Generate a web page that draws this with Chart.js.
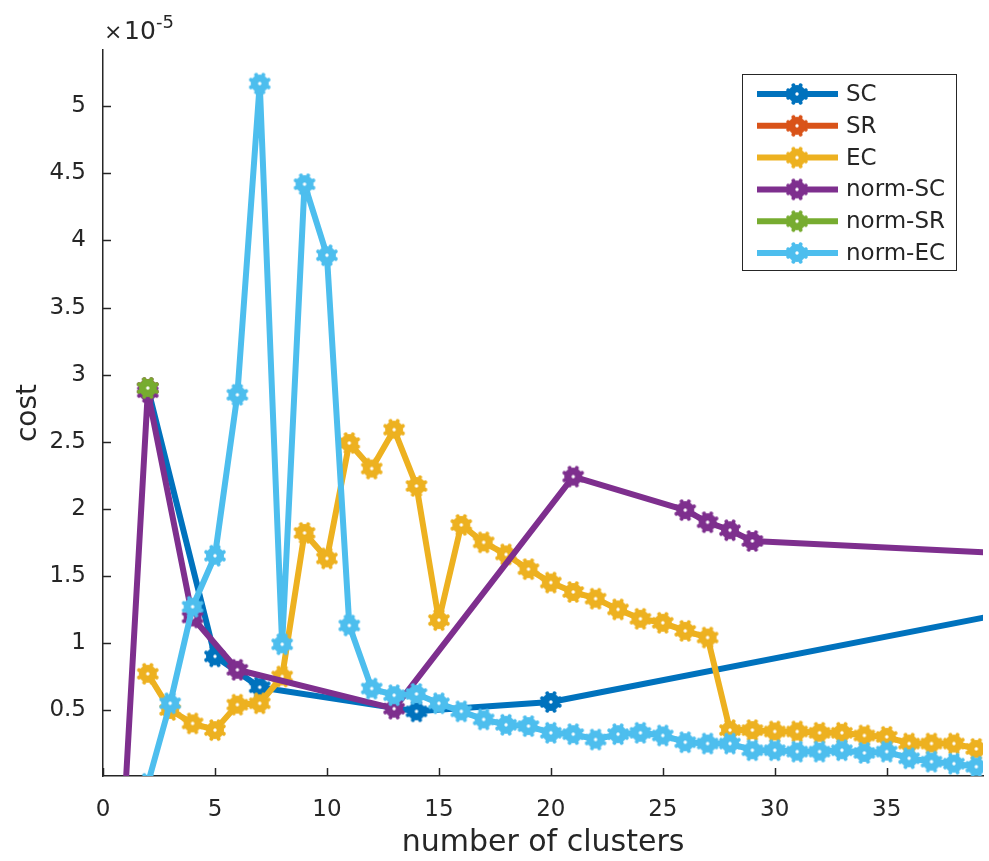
<!DOCTYPE html>
<html lang="en">
<head>
  <meta charset="UTF-8" />
  <title>cost vs number of clusters</title>
  <script src="https://cdn.jsdelivr.net/npm/chart.js"></script>
  <style>
    body { margin: 0; background: #fff; }
    #wrap { width: 989px; height: 861px; }
  </style>
</head>
<body>
  <div id="wrap"><canvas id="costChart" width="989" height="861"></canvas></div>

  <script>
    // all costs are in units of 1e-5
    const clusters = [2, 3, 4, 5, 6, 7, 8, 9, 10, 11, 12, 13, 14, 15, 16, 17, 18, 19, 20,
                      21, 22, 23, 24, 25, 26, 27, 28, 29, 30, 31, 32, 33, 34, 35, 36, 37, 38, 39];

    const scX = [2, 5, 7, 14, 20, 40];
    const scY = [2.9, 0.9, 0.67, 0.49, 0.56, 1.21];

    const srX = [2];
    const srY = [2.9];

    const ecY = [0.77, 0.5, 0.4, 0.35, 0.54, 0.55, 0.75, 1.82, 1.63, 2.49, 2.3, 2.59, 2.17, 1.17,
                 1.88, 1.75, 1.66, 1.55, 1.45, 1.38, 1.33, 1.25, 1.18, 1.15, 1.09, 1.04,
                 0.35, 0.35, 0.34, 0.34, 0.33, 0.33, 0.31, 0.3, 0.25, 0.25, 0.25, 0.21];

    const normScX = [1, 2, 4, 6, 13, 21, 26, 27, 28, 29, 40];
    const normScY = [-0.1, 2.87, 1.19, 0.8, 0.51, 2.24, 1.99, 1.9, 1.84, 1.76, 1.67];

    const normSrX = [2];
    const normSrY = [2.9];

    const normEcY = [-0.05, 0.55, 1.27, 1.65, 2.85, 5.17, 0.99, 4.42, 3.89, 1.13, 0.66, 0.61, 0.62, 0.55,
                     0.49, 0.43, 0.39, 0.38, 0.33, 0.32, 0.28, 0.32, 0.33, 0.31, 0.26, 0.25,
                     0.25, 0.2, 0.2, 0.19, 0.19, 0.2, 0.18, 0.19, 0.14, 0.115, 0.1, 0.077];

    const xTicks = [0, 5, 10, 15, 20, 25, 30, 35];
    const yTicks = [0.5, 1, 1.5, 2, 2.5, 3, 3.5, 4, 4.5, 5];

    const FONT = 'DejaVu Sans';
    const TEXT = '#262626';

    function pts(xs, ys) {
      return xs.map((x, i) => ({ x: x, y: ys[i] }));
    }

    // matlab-ish thick marker: spokes + ring, tiny white centre
    function makeMarker(color) {
      const c = document.createElement('canvas');
      c.width = c.height = 24;
      const g = c.getContext('2d');
      g.strokeStyle = color;
      g.lineWidth = 4;
      g.lineCap = 'round';
      for (let k = 0; k < 4; k++) {
        const a = k * Math.PI / 4 + Math.PI / 8;
        g.beginPath();
        g.moveTo(12 - 9.5 * Math.cos(a), 12 - 9.5 * Math.sin(a));
        g.lineTo(12 + 9.5 * Math.cos(a), 12 + 9.5 * Math.sin(a));
        g.stroke();
      }
      g.lineWidth = 6;
      g.beginPath();
      g.arc(12, 12, 6, 0, Math.PI * 2);
      g.stroke();
      g.fillStyle = '#fff';
      g.beginPath();
      g.arc(12, 12, 1.7, 0, Math.PI * 2);
      g.fill();
      return c;
    }

    function series(label, color, data) {
      const m = makeMarker(color);
      return {
        label: label,
        data: data,
        borderColor: color,
        backgroundColor: color,
        borderWidth: 6,
        borderJoinStyle: 'round',
        pointStyle: m,
        pointRadius: 12,
        tension: 0
      };
    }

    // listed top-most first (chart.js draws dataset 0 last)
    const datasets = [
      series('norm-EC', '#4DBEEE', pts(clusters, normEcY)),
      series('norm-SR', '#77AC30', pts(normSrX, normSrY)),
      series('norm-SC', '#7E2F8E', pts(normScX, normScY)),
      series('EC', '#EDB120', pts(clusters, ecY)),
      series('SR', '#D95319', pts(srX, srY)),
      series('SC', '#0072BD', pts(scX, scY))
    ];

    const matlabAxes = {
      id: 'matlabAxes',
      afterDraw(chart) {
        const ctx = chart.ctx;
        const xs = chart.scales.x, ys = chart.scales.y;
        const a = chart.chartArea;
        ctx.save();
        ctx.strokeStyle = TEXT;
        ctx.lineWidth = 1.5;
        // inward ticks
        xs.ticks.forEach(t => {
          const px = Math.round(xs.getPixelForValue(t.value)) + 0.5;
          ctx.beginPath(); ctx.moveTo(px, a.bottom); ctx.lineTo(px, a.bottom - 8); ctx.stroke();
        });
        ys.ticks.forEach(t => {
          const py = Math.round(ys.getPixelForValue(t.value)) + 0.5;
          ctx.beginPath(); ctx.moveTo(a.left, py); ctx.lineTo(a.left + 8, py); ctx.stroke();
        });

        // exponent label
        ctx.fillStyle = TEXT;
        ctx.textBaseline = 'alphabetic';
        ctx.textAlign = 'left';
        ctx.font = '22px ' + FONT;
        ctx.fillText('\u00d7', 104, 39);
        ctx.font = '25px ' + FONT;
        ctx.fillText('10', 124, 39);
        ctx.font = '18px ' + FONT;
        ctx.fillText('-5', 156, 28);

        // legend box inside the axes
        const bx = 742, by = 74, bw = 214, bh = 196;
        ctx.fillStyle = '#fff';
        ctx.fillRect(bx, by, bw, bh);
        ctx.lineWidth = 1;
        ctx.strokeRect(bx + 0.5, by + 0.5, bw, bh);
        const items = chart.data.datasets.slice().reverse();
        ctx.font = '23px ' + FONT;
        ctx.textBaseline = 'middle';
        items.forEach((ds, i) => {
          const cy = 94 + i * 31.8;
          ctx.strokeStyle = ds.borderColor;
          ctx.lineWidth = 6;
          ctx.beginPath(); ctx.moveTo(757, cy); ctx.lineTo(838, cy); ctx.stroke();
          ctx.drawImage(ds.pointStyle, 797 - 12, cy - 12);
          ctx.fillStyle = TEXT;
          ctx.fillText(ds.label, 846, cy + 1);
        });
        ctx.restore();
      }
    };

    new Chart(document.getElementById('costChart'), {
      type: 'line',
      data: { datasets: datasets },
      options: {
        responsive: false,
        animation: false,
        devicePixelRatio: 1,
        layout: { autoPadding: false, padding: { left: 0, top: 50, right: 6, bottom: 0 } },
        plugins: {
          legend: { display: false },
          tooltip: { enabled: false }
        },
        scales: {
          x: {
            type: 'linear',
            min: 0,
            max: 39.3,
            afterFit: s => { s.height = 85; s.paddingLeft = 0; s.paddingRight = 0; },
            afterBuildTicks: s => { s.ticks = xTicks.map(v => ({ value: v })); },
            grid: { display: false },
            border: { display: true, color: TEXT, width: 1.5 },
            ticks: {
              color: TEXT,
              font: { family: FONT, size: 23 },
              padding: 12,
              maxRotation: 0,
              callback: v => String(v)
            },
            title: {
              display: true,
              text: 'number of clusters',
              color: TEXT,
              font: { family: FONT, size: 30 },
              padding: { top: 0, bottom: 0 }
            }
          },
          y: {
            min: 0.008,
            max: 5.42,
            afterFit: s => { s.width = 103; s.paddingTop = 0; s.paddingBottom = 0; },
            afterBuildTicks: s => { s.ticks = yTicks.map(v => ({ value: v })); },
            grid: { display: false },
            border: { display: true, color: TEXT, width: 1.5 },
            ticks: {
              color: TEXT,
              font: { family: FONT, size: 23 },
              padding: 9,
              callback: v => String(v)
            },
            title: {
              display: true,
              text: 'cost',
              color: TEXT,
              font: { family: FONT, size: 28 },
              padding: { top: 12, bottom: 0 }
            }
          }
        }
      },
      plugins: [matlabAxes]
    });
  </script>
</body>
</html>
